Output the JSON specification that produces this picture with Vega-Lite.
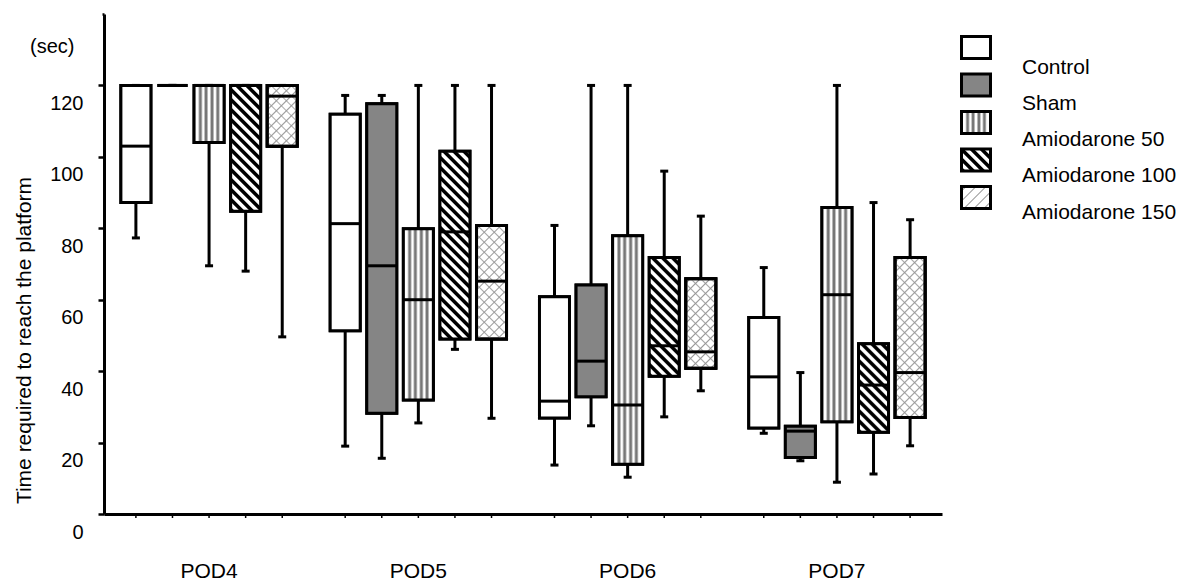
{
  "$schema": "https://vega.github.io/schema/vega-lite/v6.json",
  "width": 838,
  "height": 500,
  "autosize": {"type": "none"},
  "padding": {"left": 104, "top": 14, "right": 244, "bottom": 71},
  "background": "white",
  "config": {"view": {"stroke": null}, "font": "Liberation Sans"},
  "title": {"text": "(sec)", "anchor": "start", "frame": "group", "offset": 0, "baseline": "middle", "dx": -74, "dy": 54, "fontSize": 20, "fontWeight": "normal", "color": "black", "font": "Liberation Sans"},
  "params": [
    {"name": "stopsV", "value": [{"offset":0,"color":"#fff"},{"offset":0.13,"color":"#fff"},{"offset":0.19,"color":"#777"},{"offset":0.23,"color":"#777"},{"offset":0.29,"color":"#fff"},{"offset":0.32,"color":"#fff"},{"offset":0.38,"color":"#777"},{"offset":0.42,"color":"#777"},{"offset":0.48,"color":"#fff"},{"offset":0.52,"color":"#fff"},{"offset":0.58,"color":"#777"},{"offset":0.62,"color":"#777"},{"offset":0.68,"color":"#fff"},{"offset":0.71,"color":"#fff"},{"offset":0.77,"color":"#777"},{"offset":0.81,"color":"#777"},{"offset":0.87,"color":"#fff"},{"offset":1,"color":"#fff"}]},
    {"name": "stopsB", "value": [
      {"offset":0,"color":"#000"},{"offset":0.014,"color":"#000"},{"offset":0.02,"color":"#fff"},{"offset":0.034,"color":"#fff"},
      {"offset":0.04,"color":"#000"},{"offset":0.054,"color":"#000"},{"offset":0.06,"color":"#fff"},{"offset":0.074,"color":"#fff"},
      {"offset":0.08,"color":"#000"},{"offset":0.094,"color":"#000"},{"offset":0.10,"color":"#fff"},{"offset":0.114,"color":"#fff"},
      {"offset":0.12,"color":"#000"},{"offset":0.134,"color":"#000"},{"offset":0.14,"color":"#fff"},{"offset":0.154,"color":"#fff"},
      {"offset":0.16,"color":"#000"},{"offset":0.174,"color":"#000"},{"offset":0.18,"color":"#fff"},{"offset":0.194,"color":"#fff"},
      {"offset":0.20,"color":"#000"},{"offset":0.214,"color":"#000"},{"offset":0.22,"color":"#fff"},{"offset":0.234,"color":"#fff"},
      {"offset":0.24,"color":"#000"},{"offset":0.254,"color":"#000"},{"offset":0.26,"color":"#fff"},{"offset":0.274,"color":"#fff"},
      {"offset":0.28,"color":"#000"},{"offset":0.294,"color":"#000"},{"offset":0.30,"color":"#fff"},{"offset":0.314,"color":"#fff"},
      {"offset":0.32,"color":"#000"},{"offset":0.334,"color":"#000"},{"offset":0.34,"color":"#fff"},{"offset":0.354,"color":"#fff"},
      {"offset":0.36,"color":"#000"},{"offset":0.374,"color":"#000"},{"offset":0.38,"color":"#fff"},{"offset":0.394,"color":"#fff"},
      {"offset":0.40,"color":"#000"},{"offset":0.414,"color":"#000"},{"offset":0.42,"color":"#fff"},{"offset":0.434,"color":"#fff"},
      {"offset":0.44,"color":"#000"},{"offset":0.454,"color":"#000"},{"offset":0.46,"color":"#fff"},{"offset":0.474,"color":"#fff"},
      {"offset":0.48,"color":"#000"},{"offset":0.494,"color":"#000"},{"offset":0.50,"color":"#fff"},{"offset":0.514,"color":"#fff"},
      {"offset":0.52,"color":"#000"},{"offset":0.534,"color":"#000"},{"offset":0.54,"color":"#fff"},{"offset":0.554,"color":"#fff"},
      {"offset":0.56,"color":"#000"},{"offset":0.574,"color":"#000"},{"offset":0.58,"color":"#fff"},{"offset":0.594,"color":"#fff"},
      {"offset":0.60,"color":"#000"},{"offset":0.614,"color":"#000"},{"offset":0.62,"color":"#fff"},{"offset":0.634,"color":"#fff"},
      {"offset":0.64,"color":"#000"},{"offset":0.654,"color":"#000"},{"offset":0.66,"color":"#fff"},{"offset":0.674,"color":"#fff"},
      {"offset":0.68,"color":"#000"},{"offset":0.694,"color":"#000"},{"offset":0.70,"color":"#fff"},{"offset":0.714,"color":"#fff"},
      {"offset":0.72,"color":"#000"},{"offset":0.734,"color":"#000"},{"offset":0.74,"color":"#fff"},{"offset":0.754,"color":"#fff"},
      {"offset":0.76,"color":"#000"},{"offset":0.774,"color":"#000"},{"offset":0.78,"color":"#fff"},{"offset":0.794,"color":"#fff"},
      {"offset":0.80,"color":"#000"},{"offset":0.814,"color":"#000"},{"offset":0.82,"color":"#fff"},{"offset":0.834,"color":"#fff"},
      {"offset":0.84,"color":"#000"},{"offset":0.854,"color":"#000"},{"offset":0.86,"color":"#fff"},{"offset":0.874,"color":"#fff"},
      {"offset":0.88,"color":"#000"},{"offset":0.894,"color":"#000"},{"offset":0.90,"color":"#fff"},{"offset":0.914,"color":"#fff"},
      {"offset":0.92,"color":"#000"},{"offset":0.934,"color":"#000"},{"offset":0.94,"color":"#fff"},{"offset":0.954,"color":"#fff"},
      {"offset":0.96,"color":"#000"},{"offset":0.974,"color":"#000"},{"offset":0.98,"color":"#fff"},{"offset":0.994,"color":"#fff"}
    ]},
    {"name": "stopsS", "value": [
      {"offset":0.012,"color":"#fff"},{"offset":0.018,"color":"#999"},{"offset":0.024,"color":"#fff"},
      {"offset":0.052,"color":"#fff"},{"offset":0.058,"color":"#999"},{"offset":0.064,"color":"#fff"},
      {"offset":0.092,"color":"#fff"},{"offset":0.098,"color":"#999"},{"offset":0.104,"color":"#fff"},
      {"offset":0.132,"color":"#fff"},{"offset":0.138,"color":"#999"},{"offset":0.144,"color":"#fff"},
      {"offset":0.172,"color":"#fff"},{"offset":0.178,"color":"#999"},{"offset":0.184,"color":"#fff"},
      {"offset":0.212,"color":"#fff"},{"offset":0.218,"color":"#999"},{"offset":0.224,"color":"#fff"},
      {"offset":0.252,"color":"#fff"},{"offset":0.258,"color":"#999"},{"offset":0.264,"color":"#fff"},
      {"offset":0.292,"color":"#fff"},{"offset":0.298,"color":"#999"},{"offset":0.304,"color":"#fff"},
      {"offset":0.332,"color":"#fff"},{"offset":0.338,"color":"#999"},{"offset":0.344,"color":"#fff"},
      {"offset":0.372,"color":"#fff"},{"offset":0.378,"color":"#999"},{"offset":0.384,"color":"#fff"},
      {"offset":0.412,"color":"#fff"},{"offset":0.418,"color":"#999"},{"offset":0.424,"color":"#fff"},
      {"offset":0.452,"color":"#fff"},{"offset":0.458,"color":"#999"},{"offset":0.464,"color":"#fff"},
      {"offset":0.492,"color":"#fff"},{"offset":0.498,"color":"#999"},{"offset":0.504,"color":"#fff"},
      {"offset":0.532,"color":"#fff"},{"offset":0.538,"color":"#999"},{"offset":0.544,"color":"#fff"},
      {"offset":0.572,"color":"#fff"},{"offset":0.578,"color":"#999"},{"offset":0.584,"color":"#fff"},
      {"offset":0.612,"color":"#fff"},{"offset":0.618,"color":"#999"},{"offset":0.624,"color":"#fff"},
      {"offset":0.652,"color":"#fff"},{"offset":0.658,"color":"#999"},{"offset":0.664,"color":"#fff"},
      {"offset":0.692,"color":"#fff"},{"offset":0.698,"color":"#999"},{"offset":0.704,"color":"#fff"},
      {"offset":0.732,"color":"#fff"},{"offset":0.738,"color":"#999"},{"offset":0.744,"color":"#fff"},
      {"offset":0.772,"color":"#fff"},{"offset":0.778,"color":"#999"},{"offset":0.784,"color":"#fff"},
      {"offset":0.812,"color":"#fff"},{"offset":0.818,"color":"#999"},{"offset":0.824,"color":"#fff"},
      {"offset":0.852,"color":"#fff"},{"offset":0.858,"color":"#999"},{"offset":0.864,"color":"#fff"},
      {"offset":0.892,"color":"#fff"},{"offset":0.898,"color":"#999"},{"offset":0.904,"color":"#fff"},
      {"offset":0.932,"color":"#fff"},{"offset":0.938,"color":"#999"},{"offset":0.944,"color":"#fff"},
      {"offset":0.972,"color":"#fff"},{"offset":0.978,"color":"#999"},{"offset":0.984,"color":"#fff"}
    ]},
    {"name": "stopsX", "value": [
      {"offset":0.012,"color":"rgba(150,150,150,0)"},{"offset":0.018,"color":"rgba(150,150,150,0.8)"},{"offset":0.024,"color":"rgba(150,150,150,0)"},
      {"offset":0.052,"color":"rgba(150,150,150,0)"},{"offset":0.058,"color":"rgba(150,150,150,0.8)"},{"offset":0.064,"color":"rgba(150,150,150,0)"},
      {"offset":0.092,"color":"rgba(150,150,150,0)"},{"offset":0.098,"color":"rgba(150,150,150,0.8)"},{"offset":0.104,"color":"rgba(150,150,150,0)"},
      {"offset":0.132,"color":"rgba(150,150,150,0)"},{"offset":0.138,"color":"rgba(150,150,150,0.8)"},{"offset":0.144,"color":"rgba(150,150,150,0)"},
      {"offset":0.172,"color":"rgba(150,150,150,0)"},{"offset":0.178,"color":"rgba(150,150,150,0.8)"},{"offset":0.184,"color":"rgba(150,150,150,0)"},
      {"offset":0.212,"color":"rgba(150,150,150,0)"},{"offset":0.218,"color":"rgba(150,150,150,0.8)"},{"offset":0.224,"color":"rgba(150,150,150,0)"},
      {"offset":0.252,"color":"rgba(150,150,150,0)"},{"offset":0.258,"color":"rgba(150,150,150,0.8)"},{"offset":0.264,"color":"rgba(150,150,150,0)"},
      {"offset":0.292,"color":"rgba(150,150,150,0)"},{"offset":0.298,"color":"rgba(150,150,150,0.8)"},{"offset":0.304,"color":"rgba(150,150,150,0)"},
      {"offset":0.332,"color":"rgba(150,150,150,0)"},{"offset":0.338,"color":"rgba(150,150,150,0.8)"},{"offset":0.344,"color":"rgba(150,150,150,0)"},
      {"offset":0.372,"color":"rgba(150,150,150,0)"},{"offset":0.378,"color":"rgba(150,150,150,0.8)"},{"offset":0.384,"color":"rgba(150,150,150,0)"},
      {"offset":0.412,"color":"rgba(150,150,150,0)"},{"offset":0.418,"color":"rgba(150,150,150,0.8)"},{"offset":0.424,"color":"rgba(150,150,150,0)"},
      {"offset":0.452,"color":"rgba(150,150,150,0)"},{"offset":0.458,"color":"rgba(150,150,150,0.8)"},{"offset":0.464,"color":"rgba(150,150,150,0)"},
      {"offset":0.492,"color":"rgba(150,150,150,0)"},{"offset":0.498,"color":"rgba(150,150,150,0.8)"},{"offset":0.504,"color":"rgba(150,150,150,0)"},
      {"offset":0.532,"color":"rgba(150,150,150,0)"},{"offset":0.538,"color":"rgba(150,150,150,0.8)"},{"offset":0.544,"color":"rgba(150,150,150,0)"},
      {"offset":0.572,"color":"rgba(150,150,150,0)"},{"offset":0.578,"color":"rgba(150,150,150,0.8)"},{"offset":0.584,"color":"rgba(150,150,150,0)"},
      {"offset":0.612,"color":"rgba(150,150,150,0)"},{"offset":0.618,"color":"rgba(150,150,150,0.8)"},{"offset":0.624,"color":"rgba(150,150,150,0)"},
      {"offset":0.652,"color":"rgba(150,150,150,0)"},{"offset":0.658,"color":"rgba(150,150,150,0.8)"},{"offset":0.664,"color":"rgba(150,150,150,0)"},
      {"offset":0.692,"color":"rgba(150,150,150,0)"},{"offset":0.698,"color":"rgba(150,150,150,0.8)"},{"offset":0.704,"color":"rgba(150,150,150,0)"},
      {"offset":0.732,"color":"rgba(150,150,150,0)"},{"offset":0.738,"color":"rgba(150,150,150,0.8)"},{"offset":0.744,"color":"rgba(150,150,150,0)"},
      {"offset":0.772,"color":"rgba(150,150,150,0)"},{"offset":0.778,"color":"rgba(150,150,150,0.8)"},{"offset":0.784,"color":"rgba(150,150,150,0)"},
      {"offset":0.812,"color":"rgba(150,150,150,0)"},{"offset":0.818,"color":"rgba(150,150,150,0.8)"},{"offset":0.824,"color":"rgba(150,150,150,0)"},
      {"offset":0.852,"color":"rgba(150,150,150,0)"},{"offset":0.858,"color":"rgba(150,150,150,0.8)"},{"offset":0.864,"color":"rgba(150,150,150,0)"},
      {"offset":0.892,"color":"rgba(150,150,150,0)"},{"offset":0.898,"color":"rgba(150,150,150,0.8)"},{"offset":0.904,"color":"rgba(150,150,150,0)"},
      {"offset":0.932,"color":"rgba(150,150,150,0)"},{"offset":0.938,"color":"rgba(150,150,150,0.8)"},{"offset":0.944,"color":"rgba(150,150,150,0)"},
      {"offset":0.972,"color":"rgba(150,150,150,0)"},{"offset":0.978,"color":"rgba(150,150,150,0.8)"},{"offset":0.984,"color":"rgba(150,150,150,0)"}
    ]}
  ],
  "data": {"values": [
    {"pod":"POD4","grp":"Control","min":77.3,"q1":87.2,"med":103.0,"q3":120,"max":120},
    {"pod":"POD4","grp":"Sham","min":120,"q1":120,"med":120,"q3":120,"max":120},
    {"pod":"POD4","grp":"Amiodarone 50","min":69.5,"q1":104.0,"med":120,"q3":120,"max":120},
    {"pod":"POD4","grp":"Amiodarone 100","min":68.0,"q1":84.8,"med":120,"q3":120,"max":120},
    {"pod":"POD4","grp":"Amiodarone 150","min":49.6,"q1":103.0,"med":117.0,"q3":120,"max":120},
    {"pod":"POD5","grp":"Control","min":19.0,"q1":51.3,"med":81.3,"q3":111.9,"max":117.2},
    {"pod":"POD5","grp":"Sham","min":15.6,"q1":28.2,"med":69.5,"q3":114.9,"max":117.2},
    {"pod":"POD5","grp":"Amiodarone 50","min":25.5,"q1":31.9,"med":60.0,"q3":79.9,"max":120},
    {"pod":"POD5","grp":"Amiodarone 100","min":46.1,"q1":49.0,"med":79.0,"q3":101.6,"max":120},
    {"pod":"POD5","grp":"Amiodarone 150","min":26.8,"q1":49.0,"med":65.2,"q3":80.8,"max":120},
    {"pod":"POD6","grp":"Control","min":13.7,"q1":26.9,"med":31.6,"q3":60.8,"max":80.8},
    {"pod":"POD6","grp":"Sham","min":24.7,"q1":32.8,"med":42.8,"q3":64.1,"max":120},
    {"pod":"POD6","grp":"Amiodarone 50","min":10.3,"q1":13.9,"med":30.5,"q3":77.9,"max":120},
    {"pod":"POD6","grp":"Amiodarone 100","min":27.2,"q1":38.6,"med":47.1,"q3":71.8,"max":96.0},
    {"pod":"POD6","grp":"Amiodarone 150","min":34.5,"q1":40.8,"med":45.4,"q3":65.9,"max":83.4},
    {"pod":"POD7","grp":"Control","min":22.6,"q1":24.1,"med":38.4,"q3":55.0,"max":69.0},
    {"pod":"POD7","grp":"Sham","min":14.9,"q1":15.8,"med":23.2,"q3":24.6,"max":39.6},
    {"pod":"POD7","grp":"Amiodarone 50","min":8.9,"q1":25.8,"med":61.4,"q3":85.8,"max":120},
    {"pod":"POD7","grp":"Amiodarone 100","min":11.2,"q1":22.9,"med":36.1,"q3":47.7,"max":87.2},
    {"pod":"POD7","grp":"Amiodarone 150","min":19.1,"q1":27.0,"med":39.6,"q3":71.8,"max":82.4}
  ]},
  "layer": [
    {
      "mark": {"type": "rule", "strokeWidth": 3, "color": "black", "opacity": 1},
      "encoding": {
        "x": {"field": "pod", "type": "nominal", "title": null,
              "scale": {"domain": ["POD4","POD5","POD6","POD7"], "paddingInner": 0.126, "paddingOuter": 0.065},
              "axis": {"domainWidth": 3, "domainColor": "black", "ticks": false, "labelAngle": 0, "labelFontSize": 21, "labelColor": "black", "labelPadding": 46, "labelFont": "Liberation Sans"}},
        "xOffset": {"field": "grp", "type": "nominal",
              "scale": {"domain": ["Control","Sham","Amiodarone 50","Amiodarone 100","Amiodarone 150"], "paddingInner": 0.18, "paddingOuter": 0.09}},
        "y": {"field": "min", "type": "quantitative", "title": "Time required to reach the platform",
              "scale": {"domain": [0, 140], "nice": false},
              "axis": {"values": [0,5,10,15,20,25,30,35,40,45,50,55,60,65,70,75,80,85,90,95,100,105,110,115,120,125,130,135,140],
                       "grid": false, "domainWidth": 3, "domainColor": "black", "tickColor": "black", "tickWidth": 2.5,
                       "tickSize": {"condition": {"test": "datum.value % 20 === 0 && datum.value <= 120", "value": 6}, "value": 2},
                       "labelExpr": "datum.value % 20 === 0 && datum.value <= 120 ? datum.label : ''",
                       "labelOverlap": false, "labelFlush": false, "labelBound": false,
                       "labelOffset": 18, "labelPadding": 15, "labelFontSize": 20, "labelColor": "black", "labelFont": "Liberation Sans",
                       "titleFontSize": 21, "titleFontWeight": "normal", "titleColor": "black", "titleFont": "Liberation Sans",
                       "titleX": -70, "titleY": 326, "titleAngle": -90, "titleBaseline": "bottom", "titleAlign": "center"}},
        "y2": {"field": "max"}
      }
    },
    {
      "mark": {"type": "bar", "stroke": "black", "strokeWidth": 3, "opacity": 1},
      "encoding": {
        "x": {"field": "pod", "type": "nominal"},
        "xOffset": {"field": "grp", "type": "nominal"},
        "y": {"field": "q1", "type": "quantitative"},
        "y2": {"field": "q3"},
        "fill": {"field": "grp", "type": "nominal",
                 "scale": {"domain": ["Control","Sham","Amiodarone 50","Amiodarone 100","Amiodarone 150"],
                           "range": ["#ffffff", "#858585",
                                     {"expr": "{'gradient': 'linear', 'x1': 0, 'y1': 0, 'x2': 1, 'y2': 0, 'stops': stopsV}"},
                                     {"expr": "{'gradient': 'linear', 'x1': 0, 'y1': 1, 'x2': 5.4717, 'y2': -3.1509, 'stops': stopsB}"},
                                     {"expr": "{'gradient': 'linear', 'x1': 0, 'y1': 0, 'x2': 5.4717, 'y2': 4.1509, 'stops': stopsS}"}]},
                 "legend": {"title": null, "orient": "none", "legendX": 856, "legendY": 17.5, "padding": 0,
                            "symbolType": "M-1,-0.7586L1,-0.7586L1,0.7586L-1,0.7586Z", "symbolSize": 841,
                            "symbolStrokeColor": "black", "symbolStrokeWidth": 3, "symbolOpacity": 1,
                            "labelExpr": "''", "labelFontSize": 1, "labelOffset": 0, "rowPadding": 3.5}}
      }
    },
    {
      "mark": {"type": "bar", "stroke": "black", "strokeWidth": 3, "opacity": 1,
               "fill": {"expr": "datum.grp === 'Amiodarone 100' ? {'gradient': 'linear', 'x1': 0, 'y1': 1, 'x2': 7500 / (900 + pow(scale('y', datum.q1) - scale('y', datum.q3), 2)), 'y2': 1 - 250 * (scale('y', datum.q1) - scale('y', datum.q3)) / (900 + pow(scale('y', datum.q1) - scale('y', datum.q3), 2)), 'stops': stopsB} : datum.grp === 'Amiodarone 150' ? {'gradient': 'linear', 'x1': 0, 'y1': 0, 'x2': 7500 / (900 + pow(scale('y', datum.q1) - scale('y', datum.q3), 2)), 'y2': 250 * (scale('y', datum.q1) - scale('y', datum.q3)) / (900 + pow(scale('y', datum.q1) - scale('y', datum.q3), 2)), 'stops': stopsS} : datum.grp === 'Amiodarone 50' ? {'gradient': 'linear', 'x1': 0, 'y1': 0, 'x2': 1, 'y2': 0, 'stops': stopsV} : datum.grp === 'Sham' ? '#858585' : '#ffffff'"}},
      "encoding": {
        "x": {"field": "pod", "type": "nominal"},
        "xOffset": {"field": "grp", "type": "nominal"},
        "y": {"field": "q1", "type": "quantitative"},
        "y2": {"field": "q3"}
      }
    },
    {
      "transform": [{"filter": "datum.grp === 'Amiodarone 150'"}],
      "mark": {"type": "bar", "stroke": "black", "strokeWidth": 3, "opacity": 1,
               "fill": {"expr": "{'gradient': 'linear', 'x1': 0, 'y1': 1, 'x2': 7500 / (900 + pow(scale('y', datum.q1) - scale('y', datum.q3), 2)), 'y2': 1 - 250 * (scale('y', datum.q1) - scale('y', datum.q3)) / (900 + pow(scale('y', datum.q1) - scale('y', datum.q3), 2)), 'stops': stopsX}"}},
      "encoding": {
        "x": {"field": "pod", "type": "nominal"},
        "xOffset": {"field": "grp", "type": "nominal"},
        "y": {"field": "q1", "type": "quantitative"},
        "y2": {"field": "q3"}
      }
    },
    {
      "mark": {"type": "tick", "color": "black", "thickness": 3, "size": 30, "opacity": 1},
      "encoding": {
        "x": {"field": "pod", "type": "nominal"},
        "xOffset": {"field": "grp", "type": "nominal"},
        "y": {"field": "med", "type": "quantitative"}
      }
    },
    {
      "mark": {"type": "tick", "color": "black", "thickness": 3, "size": 8, "opacity": 1},
      "encoding": {
        "x": {"field": "pod", "type": "nominal"},
        "xOffset": {"field": "grp", "type": "nominal"},
        "y": {"field": "min", "type": "quantitative"}
      }
    },
    {
      "mark": {"type": "tick", "color": "black", "thickness": 3, "size": 8, "opacity": 1},
      "encoding": {
        "x": {"field": "pod", "type": "nominal"},
        "xOffset": {"field": "grp", "type": "nominal"},
        "y": {"field": "max", "type": "quantitative"}
      }
    },
    {
      "mark": {"type": "rule", "strokeWidth": 1.5, "color": "black", "y2Offset": 4},
      "encoding": {
        "x": {"field": "pod", "type": "nominal"},
        "xOffset": {"field": "grp", "type": "nominal"},
        "y": {"datum": 0},
        "y2": {"datum": 0},
        "opacity": {"field": "grp", "type": "nominal",
                    "sort": ["Control","Sham","Amiodarone 50","Amiodarone 100","Amiodarone 150"],
                    "scale": {"range": [1, 1, 1, 1, 1]},
                    "legend": {"title": null, "orient": "none", "legendX": 897, "legendY": 43, "padding": 0,
                               "symbolSize": 0, "symbolStrokeWidth": 0, "symbolFillColor": "transparent", "symbolStrokeColor": "transparent",
                               "labelFontSize": 21, "labelColor": "black", "labelFont": "Liberation Sans", "labelOffset": 0,
                               "labelLimit": 300, "rowPadding": 14.3}}
      }
    }
  ]
}
